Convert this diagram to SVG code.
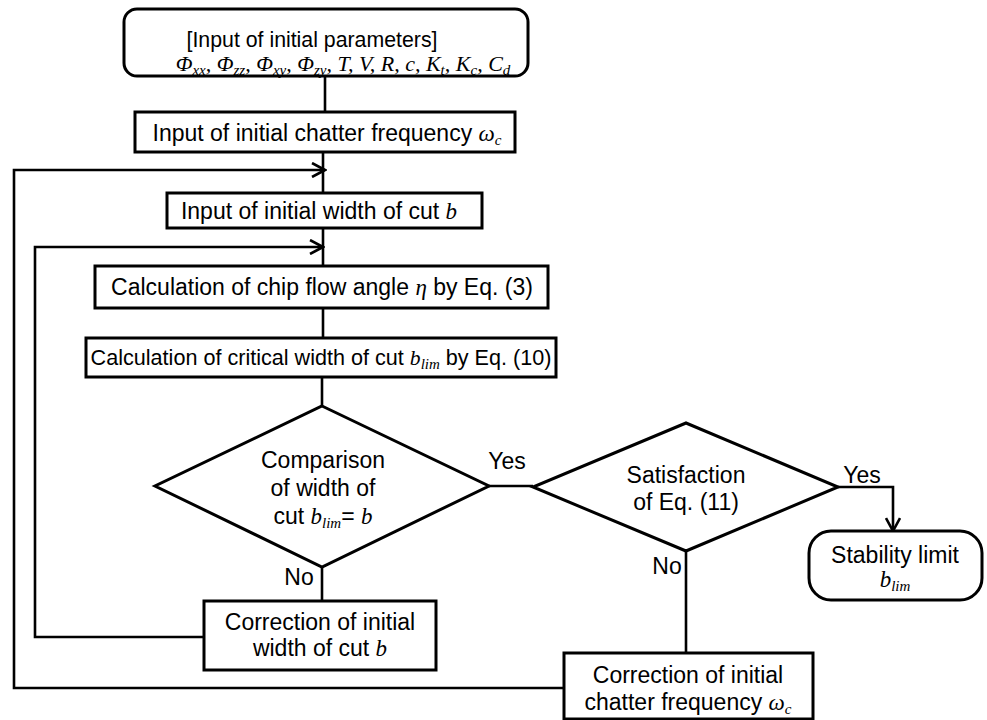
<svg xmlns="http://www.w3.org/2000/svg" width="987" height="720" viewBox="0 0 987 720">
<style>
.box{fill:#fff;stroke:#000;stroke-width:3}
.ln{fill:none;stroke:#000;stroke-width:2.6}
.t{font-family:"Liberation Sans",Arial,sans-serif;font-size:23px;fill:#000;text-anchor:middle}
.m{font-family:"Liberation Serif","Times New Roman",serif;font-style:italic}
.s{font-size:15px}
</style>
<defs>
<marker id="ah" markerUnits="userSpaceOnUse" viewBox="0 0 16 16" refX="14" refY="8" markerWidth="16" markerHeight="16" orient="auto">
<path d="M1,1 L14,8 L1,15" fill="none" stroke="#000" stroke-width="2.6"/>
</marker>
</defs>
<rect width="987" height="720" fill="#fff"/>
<g id="connectors">
<path class="ln" d="M325,76 V112"/>
<path class="ln" d="M323,152 V193"/>
<path class="ln" d="M323,228 V266"/>
<path class="ln" d="M323,308 V338"/>
<path class="ln" d="M322,377 V406"/>
<path class="ln" d="M489,486 H533"/>
<path class="ln" d="M838,487 H893 V531" marker-end="url(#ah)"/>
<path class="ln" d="M322,567 V601"/>
<path class="ln" d="M686,551 V653"/>
<path class="ln" d="M204,637 H35 V247 H323" marker-end="url(#ah)"/>
<path class="ln" d="M564,688 H14 V170 H325" marker-end="url(#ah)"/>
<text class="t" x="507" y="469">Yes</text>
<text class="t" x="862" y="483">Yes</text>
<text class="t" x="299" y="585">No</text>
<text class="t" x="667" y="574">No</text>
</g>
<g id="input-params">
<rect class="box" x="124" y="9" width="404" height="67" rx="13"/>
<text class="t" x="312" y="47" style="font-size:21.3px">[Input of initial parameters]</text>
<text class="t m" x="343" y="71" style="font-size:22px">Φ<tspan class="s" dy="4">xx</tspan><tspan dy="-4">, Φ</tspan><tspan class="s" dy="4">zz</tspan><tspan dy="-4">, Φ</tspan><tspan class="s" dy="4">xy</tspan><tspan dy="-4">, Φ</tspan><tspan class="s" dy="4">zy</tspan><tspan dy="-4">, T, V, R, c, K</tspan><tspan class="s" dy="4">t</tspan><tspan dy="-4">, K</tspan><tspan class="s" dy="4">c</tspan><tspan dy="-4">, C</tspan><tspan class="s" dy="4">d</tspan></text>
</g>
<g id="input-freq">
<rect class="box" x="135" y="112" width="380" height="40"/>
<text class="t" x="327" y="141">Input of initial chatter frequency <tspan class="m">ω</tspan><tspan class="m s" dy="4">c</tspan></text>
</g>
<g id="input-width">
<rect class="box" x="167" y="193" width="315" height="35"/>
<text class="t" x="319" y="219">Input of initial width of cut <tspan class="m">b</tspan></text>
</g>
<g id="calc-eta">
<rect class="box" x="95" y="266" width="453" height="42"/>
<text class="t" x="322" y="295">Calculation of chip flow angle <tspan class="m">η</tspan> by Eq. (3)</text>
</g>
<g id="calc-blim">
<rect class="box" x="86" y="338" width="470" height="39"/>
<text class="t" x="321" y="365" style="font-size:21.6px">Calculation of critical width of cut <tspan class="m">b</tspan><tspan class="m s" dy="4">lim</tspan><tspan dy="-4"> by Eq. (10)</tspan></text>
</g>
<g id="compare">
<polygon class="box" points="322,406 489,486 322,567 155,486"/>
<text class="t" x="323" y="468">Comparison</text>
<text class="t" x="323" y="496">of width of</text>
<text class="t" x="323" y="524">cut <tspan class="m">b</tspan><tspan class="m s" dy="4">lim</tspan><tspan dy="-4">= </tspan><tspan class="m">b</tspan></text>
</g>
<g id="satisfy">
<polygon class="box" points="686,423 838,487 686,551 533,487"/>
<text class="t" x="686" y="483">Satisfaction</text>
<text class="t" x="686" y="510">of Eq. (11)</text>
</g>
<g id="stability">
<rect class="box" x="809" y="531" width="173" height="69" rx="22"/>
<text class="t" x="895" y="563">Stability limit</text>
<text class="t m" x="895" y="587">b<tspan class="s" dy="4">lim</tspan></text>
</g>
<g id="correct-width">
<rect class="box" x="204" y="601" width="232" height="69"/>
<text class="t" x="320" y="630">Correction of initial</text>
<text class="t" x="320" y="656">width of cut <tspan class="m">b</tspan></text>
</g>
<g id="correct-freq">
<rect class="box" x="564" y="653" width="249" height="66"/>
<text class="t" x="688" y="683">Correction of initial</text>
<text class="t" x="688" y="710">chatter frequency <tspan class="m">ω</tspan><tspan class="m s" dy="4">c</tspan></text>
</g>
</svg>
